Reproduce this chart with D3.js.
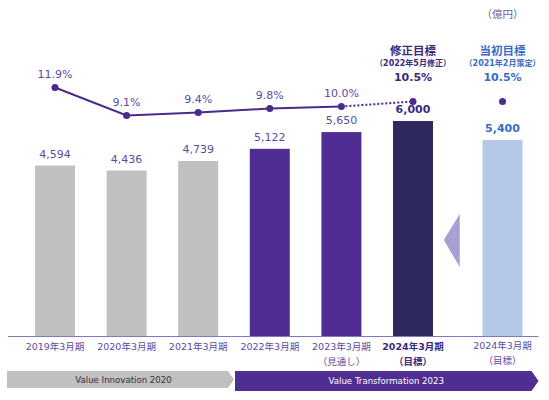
<!DOCTYPE html>
<html>
<head>
<meta charset="utf-8">
<script src="https://cdn.jsdelivr.net/npm/d3@7"></script>
<style>
  body { margin: 0; background: #fff; }
  svg text { font-family: "DejaVu Sans", "Noto Sans CJK JP", sans-serif; }
</style>
</head>
<body>
<svg id="chart"></svg>
<script>
// data
const categories = ["2019年3月期", "2020年3月期", "2021年3月期", "2022年3月期", "2023年3月期", "2024年3月期", "2024年3月期"];
const subLabels = ["", "", "", "", "（見通し）", "（目標）", "（目標）"];
const revenue = [4594, 4436, 4739, 5122, 5650, 6000, 5400];
const marginPct = [11.9, 9.1, 9.4, 9.8, 10.0, 10.5, 10.5];
const phases = ["Value Innovation 2020", "Value Transformation 2023"];
const unitLabel = "（億円）";
const revisedTitle = ["修正目標", "（2022年5月修正）"];
const initialTitle = ["当初目標", "（2021年2月策定）"];

const width = 549, height = 400;
const purple = "#4f2d92", navy = "#2f2a5e", grey = "#c0c0c0", lightBlue = "#b5c8e8";
const textPurple = "#5b4ca3", darkText = "#3a2a7e", blueText = "#3a6cc4";

function barColor(i) {
    if (i < 3) return grey;
    if (i < 5) return purple;
    if (i == 5) return navy;
    return lightBlue;
}

// last column sits a bit further out
const slot = i => i < 6 ? i : 6.25;

const svg = d3.select("#chart")
    .attr("width", width)
    .attr("height", height);

const x = d3.scaleLinear()
    .domain([0, 5])
    .range([55, 413]);

const baseY = 336;
const y = d3.scaleLinear()
    .domain([-790, 6000])
    .range([baseY, 121]);

const yPct = d3.scaleLinear()
    .domain([9, 12])
    .range([116.5, 86.5]);

const barW = 40;

// bars
svg.append("g")
    .selectAll("rect")
    .data(revenue)
    .join("rect")
    .attr("x", (d, i) => x(slot(i)) - barW / 2)
    .attr("y", d => y(d))
    .attr("width", barW)
    .attr("height", d => baseY - y(d))
    .attr("fill", (d, i) => barColor(i));

// value labels
svg.append("g")
    .selectAll("text")
    .data(revenue)
    .join("text")
    .attr("x", (d, i) => x(slot(i)))
    .attr("y", d => y(d) - 8)
    .attr("text-anchor", "middle")
    .style("font-size", "11px")
    .style("font-weight", (d, i) => i >= 5 ? "bold" : "normal")
    .attr("fill", (d, i) => i == 5 ? darkText : i == 6 ? blueText : textPurple)
    .text(d => d3.format(",")(d));

// baseline
svg.append("line")
    .attr("x1", 8).attr("x2", x(slot(6)) + 36)
    .attr("y1", baseY + 0.5).attr("y2", baseY + 0.5)
    .attr("stroke", "#8576c0")
    .attr("stroke-width", 1);

// margin line
const line = d3.line()
    .x(d => x(slot(d.i)))
    .y(d => yPct(d.v));
const pts = marginPct.map((v, i) => ({ v: v, i: i }));

svg.append("path")
    .datum(pts.slice(0, 5))
    .attr("d", line)
    .attr("fill", "none")
    .attr("stroke", "#4a2a8c")
    .attr("stroke-width", 2);

svg.append("path")
    .datum(pts.slice(4, 6))
    .attr("d", line)
    .attr("fill", "none")
    .attr("stroke", "#4a2a8c")
    .attr("stroke-width", 2)
    .attr("stroke-dasharray", "2,2");

svg.append("g")
    .selectAll("circle")
    .data(pts)
    .join("circle")
    .attr("cx", d => x(slot(d.i)))
    .attr("cy", d => yPct(d.v))
    .attr("r", 3.5)
    .attr("fill", "#4a2a8c");

// pct labels
svg.append("g")
    .selectAll("text")
    .data(pts)
    .join("text")
    .attr("x", d => x(slot(d.i)))
    .attr("y", d => d.i >= 5 ? 81 : yPct(d.v) - 10)
    .attr("text-anchor", "middle")
    .style("font-size", "11px")
    .style("font-weight", d => d.i >= 5 ? "bold" : "normal")
    .attr("fill", d => d.i == 5 ? darkText : d.i == 6 ? blueText : textPurple)
    .text(d => d3.format(".1f")(d.v) + "%");

// headers over the two target columns
function header(title, i, color) {
    svg.append("text")
        .attr("x", x(slot(i))).attr("y", 55)
        .attr("text-anchor", "middle")
        .style("font-size", "11.5px").style("font-weight", "bold")
        .attr("fill", color)
        .text(title[0]);
    svg.append("text")
        .attr("x", x(slot(i))).attr("y", 66)
        .attr("text-anchor", "middle")
        .style("font-size", "8px").style("font-weight", "bold")
        .attr("fill", color)
        .text(title[1]);
}
header(revisedTitle, 5, darkText);
header(initialTitle, 6, blueText);

svg.append("text")
    .attr("x", x(slot(6))).attr("y", 18)
    .attr("text-anchor", "middle")
    .style("font-size", "10.5px")
    .attr("fill", "#6a5fa0")
    .text(unitLabel);

// arrow from initial to revised target
const ax = (x(5) + x(slot(6))) / 2 - 6;
svg.append("path")
    .attr("d", `M${ax - 8},240 L${ax + 8},214 L${ax + 8},267 Z`)
    .attr("fill", "#a99fd4");

// category labels
const cat = svg.append("g")
    .selectAll("g")
    .data(categories)
    .join("g")
    .attr("transform", (d, i) => `translate(${x(slot(i))},0)`);

cat.append("text")
    .attr("y", (d, i) => i == 6 ? 349 : 350)
    .attr("text-anchor", "middle")
    .style("font-size", "9.5px")
    .style("font-weight", (d, i) => i == 5 ? "bold" : "normal")
    .attr("fill", (d, i) => i == 5 ? darkText : textPurple)
    .text(d => d);

cat.append("text")
    .attr("y", (d, i) => i == 6 ? 364 : 365)
    .attr("text-anchor", "middle")
    .style("font-size", "9.5px")
    .style("font-weight", (d, i) => i == 5 ? "bold" : "normal")
    .attr("fill", (d, i) => i == 5 ? darkText : textPurple)
    .text((d, i) => subLabels[i]);

// phase bands
const split = x(2.5);
const gx0 = 7, gx1 = split, px1 = x(slot(6)) + 36;
svg.append("path")
    .attr("d", `M${gx0},371 L${gx1 - 6},371 L${gx1},379.5 L${gx1 - 6},388 L${gx0},388 Z`)
    .attr("fill", grey);
svg.append("path")
    .attr("d", `M${gx1 + 1},371 L${px1 - 7},371 L${px1},381 L${px1 - 7},391 L${gx1 + 1},391 Z`)
    .attr("fill", purple);

svg.append("text")
    .attr("x", (gx0 + gx1) / 2 + 3).attr("y", 383)
    .attr("text-anchor", "middle")
    .style("font-size", "8.6px")
    .attr("fill", "#333")
    .text(phases[0]);

svg.append("text")
    .attr("x", (gx1 + px1) / 2).attr("y", 384)
    .attr("text-anchor", "middle")
    .style("font-size", "8.6px")
    .attr("fill", "#fff")
    .text(phases[1]);
</script>
</body>
</html>
